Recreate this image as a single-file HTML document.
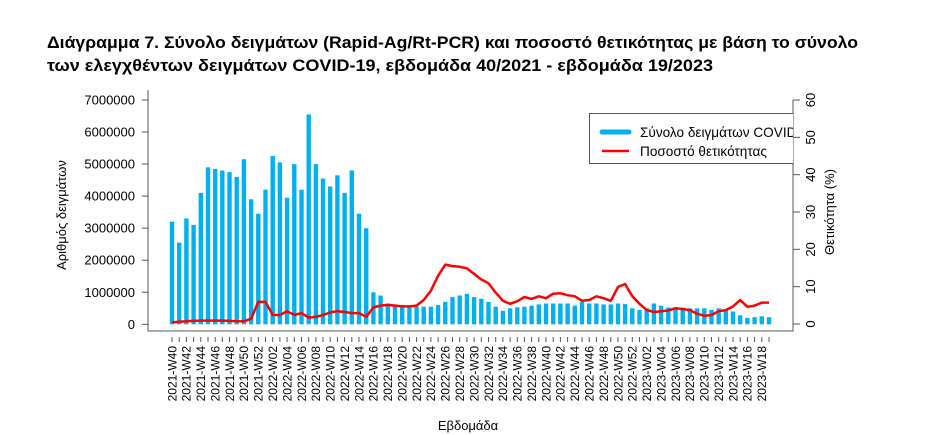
<!DOCTYPE html>
<html><head><meta charset="utf-8"><style>
body{margin:0;background:#fff;width:933px;height:435px;overflow:hidden}
svg{display:block}
text{font-family:"Liberation Sans","DejaVu Sans",sans-serif}
</style></head><body>
<svg id="s" width="933" height="435" xmlns="http://www.w3.org/2000/svg">
<text x="47" y="48" font-size="16.5" font-weight="bold" textLength="811" lengthAdjust="spacingAndGlyphs">Διάγραμμα 7. Σύνολο δειγμάτων (Rapid-Ag/Rt-PCR) και ποσοστό θετικότητας με βάση το σύνολο</text>
<text x="47" y="71" font-size="16.5" font-weight="bold" textLength="666" lengthAdjust="spacingAndGlyphs">των ελεγχθέντων δειγμάτων COVID-19, εβδομάδα 40/2021 - εβδομάδα 19/2023</text>
<g id="g"></g>
</svg>
<script>
var bars=[3.2,2.55,3.3,3.1,4.1,4.9,4.85,4.8,4.75,4.6,5.15,3.9,3.45,4.2,5.25,5.05,3.95,5.0,4.2,6.55,5.0,4.55,4.3,4.65,4.1,4.8,3.45,3.0,1.0,0.9,0.65,0.62,0.58,0.53,0.55,0.55,0.55,0.6,0.7,0.85,0.9,0.95,0.85,0.8,0.7,0.55,0.42,0.5,0.53,0.55,0.58,0.62,0.65,0.65,0.65,0.65,0.58,0.7,0.65,0.65,0.62,0.62,0.65,0.63,0.5,0.45,0.5,0.65,0.58,0.52,0.5,0.48,0.5,0.5,0.5,0.45,0.5,0.45,0.4,0.28,0.2,0.22,0.25,0.22];
var pct=[0.5,0.7,0.8,0.9,1.0,1.0,1.0,1.0,0.9,0.8,0.8,1.5,6.0,6.0,2.5,2.5,3.5,2.5,3.0,1.8,2.0,2.5,3.2,3.5,3.3,3.0,3.0,2.0,4.5,5.0,5.2,5.0,4.8,4.8,5.0,6.5,9.0,13.0,16.0,15.6,15.4,15.0,13.5,12.0,11.0,8.5,6.3,5.5,6.2,7.3,6.8,7.5,7.0,8.2,8.3,7.8,7.5,6.3,6.5,7.5,7.0,6.3,10.0,10.8,7.5,5.5,3.8,3.3,3.5,3.7,4.3,4.1,3.8,2.8,2.3,2.5,3.5,3.8,4.8,6.5,4.7,5.0,5.8];
var N=84,x0=172,dx=(769-172)/83,y0=324.3,ky=32.05,kp=224/60;
var h='';
h+='<clipPath id="c"><rect x="148" y="90" width="645" height="245"/></clipPath>';
for(var i=0;i<N;i++){var v=bars[i]||0.25,x=x0+i*dx;h+='<rect x="'+(x-2.2).toFixed(1)+'" y="'+(y0-v*ky).toFixed(1)+'" width="4.4" height="'+(v*ky).toFixed(1)+'" fill="#00b0f0"/>';}
var p='';for(var i=0;i<N;i++){var v=pct[i]!=null?pct[i]:5.8;p+=(i?'L':'M')+(x0+i*dx).toFixed(1)+' '+(y0-v*kp).toFixed(1);}
h+='<path d="'+p+'" fill="none" stroke="#ff0000" stroke-width="2.5" stroke-linejoin="round"/>';
h+='<path d="M148 90V331H793V100" fill="none" stroke="#555" stroke-width="1"/>';
for(var k=0;k<=7;k++){var y=y0-k*ky;h+='<line x1="142" x2="148" y1="'+y+'" y2="'+y+'" stroke="#555"/><text x="135" y="'+(y+4.5)+'" font-size="13" text-anchor="end">'+(k?k+'000000':'0')+'</text>';}
for(var k=0;k<=6;k++){var y=324-k*10*kp;h+='<line x1="793" x2="800" y1="'+y+'" y2="'+y+'" stroke="#555"/><text transform="translate(815 '+y+') rotate(-90)" font-size="13" text-anchor="middle">'+(k*10)+'</text>';}
for(var i=0;i<N;i++){var x=(x0+i*dx).toFixed(1);h+='<line x1="'+x+'" x2="'+x+'" y1="337" y2="342" stroke="#555"/>';}
var lab=[];for(var w=40;w<=52;w++)lab.push('2021-W'+w);for(var w=1;w<=52;w++)lab.push('2022-W'+(w<10?'0':'')+w);for(var w=1;w<=19;w++)lab.push('2023-W'+(w<10?'0':'')+w);
for(var i=0;i<N;i+=2){var x=x0+i*dx+4.3;h+='<text transform="translate('+x.toFixed(1)+' 346) rotate(-90)" font-size="12" text-anchor="end">'+lab[i]+'</text>';}
h+='<text transform="translate(66 215) rotate(-90)" font-size="13" text-anchor="middle">Αριθμός δειγμάτων</text>';
h+='<text transform="translate(834 212) rotate(-90)" font-size="13" text-anchor="middle">Θετικότητα (%)</text>';
h+='<text x="468" y="430" font-size="13" text-anchor="middle">Εβδομάδα</text>';
h+='<g clip-path="url(#c)"><rect x="589.5" y="113.5" width="260" height="50" fill="#fff" stroke="#555"/>';
h+='<line x1="602" x2="629" y1="132" y2="132" stroke="#00b0f0" stroke-width="5" stroke-linecap="round"/><text x="640" y="137" font-size="13.6">Σύνολο δειγμάτων COVID-19</text>';
h+='<line x1="602" x2="629" y1="151" y2="151" stroke="#ff0000" stroke-width="2.5"/><text x="640" y="156" font-size="13.6">Ποσοστό θετικότητας</text></g>';
document.getElementById('g').innerHTML=h;
</script>
</body></html>
